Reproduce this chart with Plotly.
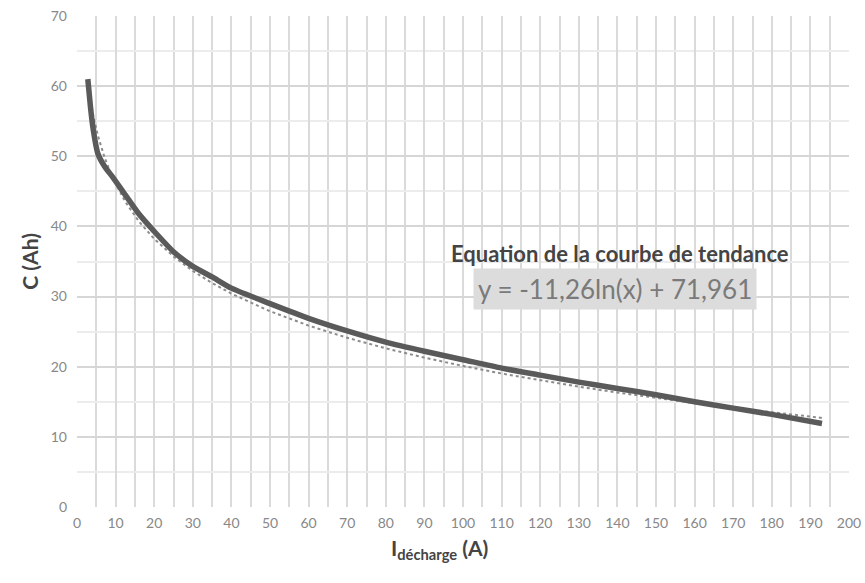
import numpy as np
import plotly.graph_objects as go

# Measured discharge capacity
current_a = [2.8, 3.5, 4.1, 5.4, 7.2, 9.3, 12.5, 16, 20, 25, 30, 35, 40, 50, 60, 70,
             80, 90, 100, 110, 120, 130, 140, 150, 160, 170, 180, 193]
capacity_ah = [61.0, 57.0, 54.2, 50.4, 48.5, 47.0, 44.5, 41.8, 39.3, 36.4, 34.3, 32.8,
               31.2, 29.0, 26.9, 25.1, 23.5, 22.2, 21.0, 19.8, 18.8, 17.8, 16.9, 16.0,
               15.0, 14.1, 13.2, 11.9]

# Logarithmic trendline coefficients shown on the chart
trend_a = -11.26
trend_b = 71.961

x_ticks = list(range(0, 201, 10))
y_ticks = list(range(0, 71, 10))

trend_x = np.array(current_a)
trend_y = trend_a * np.log(trend_x) + trend_b

font_family = "Lato, 'Open Sans', sans-serif"

fig = go.Figure()
fig.add_trace(go.Scatter(x=trend_x, y=trend_y, mode="lines",
                         line=dict(color="#8c8c8c", width=2, dash="dot"),
                         showlegend=False, hoverinfo="skip"))
fig.add_trace(go.Scatter(x=current_a, y=capacity_ah, mode="lines",
                         line=dict(color="#5a5a5a", width=5.5, shape="spline", smoothing=0.6),
                         showlegend=False))

fig.update_layout(
    width=865, height=583,
    margin=dict(l=77, r=16, t=16, b=76),
    paper_bgcolor="white", plot_bgcolor="white",
    font=dict(family=font_family, color="#888888", size=14),
    xaxis=dict(range=[0, 200], tickvals=x_ticks, ticktext=[str(v) for v in x_ticks],
               showgrid=True, gridcolor="#dadada", gridwidth=1.5,
               minor=dict(dtick=5, showgrid=True, gridcolor="#dadada", gridwidth=1.5),
               zeroline=False, showline=False, ticks="", ticklabelstandoff=6,
               automargin=False,
               tickfont=dict(size=14, color="#888888")),
    yaxis=dict(range=[0, 70], tickvals=y_ticks, ticktext=[str(v) for v in y_ticks],
               showgrid=True, gridcolor="#d6d6d6", gridwidth=1.5,
               minor=dict(dtick=5, showgrid=True, gridcolor="#ececec", gridwidth=1.5),
               zeroline=False, showline=False, ticks="", ticklabelstandoff=9,
               automargin=False,
               tickfont=dict(size=14, color="#888888")),
)

# Axis titles
fig.add_annotation(x=0.47, y=-0.052, xref="paper", yref="paper",
                   xanchor="center", yanchor="top",
                   text="<b>I<sub>décharge</sub> (A)</b>", showarrow=False,
                   font=dict(size=21, color="#444444", family=font_family))
fig.add_annotation(x=-0.062, y=0.5, xref="paper", yref="paper",
                   xanchor="center", yanchor="middle",
                   text="<b>C (Ah)</b>", showarrow=False, textangle=-90,
                   font=dict(size=21, color="#444444", family=font_family))

# Trendline label
fig.add_annotation(x=0.7035, y=0.516, xref="paper", yref="paper",
                   xanchor="center", yanchor="middle",
                   text="<b>Equation de la courbe de tendance</b>", showarrow=False,
                   font=dict(size=22, color="#444444", family=font_family))
fig.add_annotation(x=0.6965, y=0.443, xref="paper", yref="paper",
                   xanchor="center", yanchor="middle",
                   text="y = -11,26ln(x) + 71,961", showarrow=False,
                   bgcolor="#dcdcdc", borderpad=4,
                   font=dict(size=26, color="#7a7a7a", family=font_family))

fig.write_html("out.html", config={"displayModeBar": False},
               post_script="document.body.style.margin='0';document.body.style.padding='0';")
